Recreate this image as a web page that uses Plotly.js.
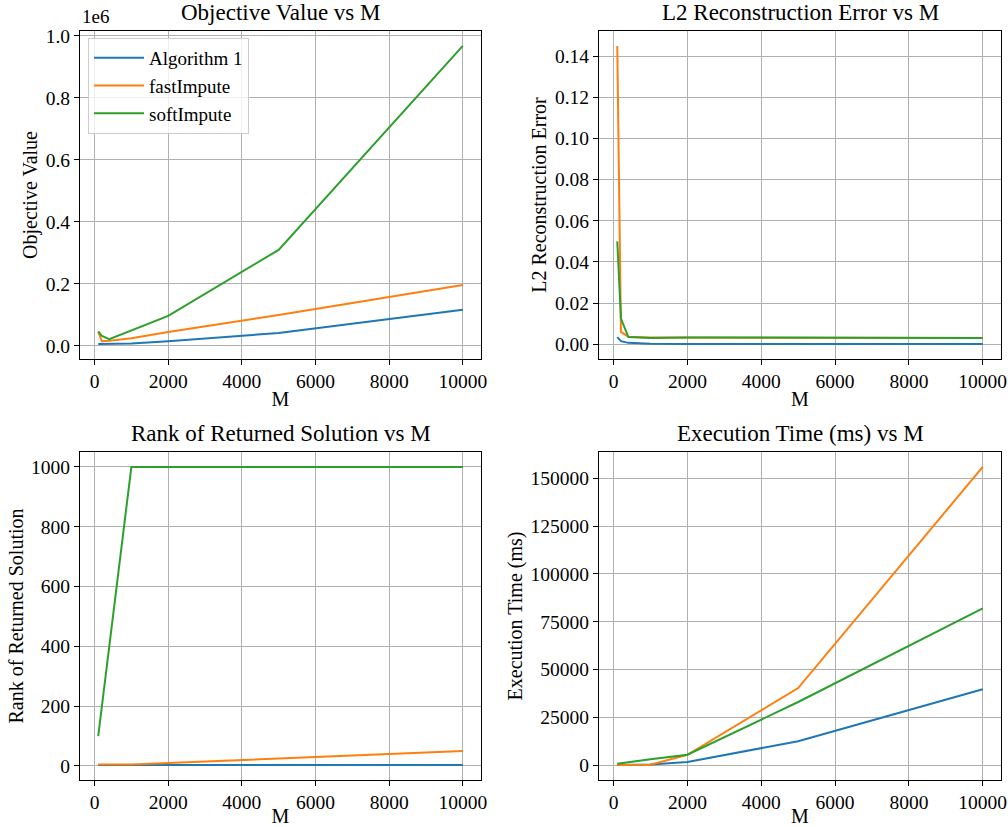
<!DOCTYPE html>
<html>
<head>
<meta charset="utf-8">
<script src="https://cdn.plot.ly/plotly-3.0.1.min.js"></script>
<style>html,body{margin:0;padding:0;background:#fff}#chart{width:1008px;height:827px}</style>
</head>
<body>
<div id="chart"></div>
<script>
const M = [100, 200, 400, 1000, 2000, 5000, 10000];
const seriesNames = ['Algorithm 1', 'fastImpute', 'softImpute'];
const colors = ['#1f77b4', '#ff7f0e', '#2ca02c'];

// Objective value
const objAlg1 = [6000, 6000, 6500, 8000, 15000, 42000, 117000];
const objFast = [45000, 15000, 17000, 25000, 45000, 100000, 197000];
const objSoft = [47000, 32000, 22000, 50000, 97000, 310000, 968000];

// L2 reconstruction error
const l2Alg1 = [0.0035, 0.0015, 0.0007, 0.0003, 0.0002, 0.00015, 0.0001];
const l2Fast = [0.145, 0.006, 0.0037, 0.0033, 0.0033, 0.0031, 0.003];
const l2Soft = [0.050, 0.0125, 0.0035, 0.0031, 0.0033, 0.0032, 0.0031];

// Rank of returned solution
const rankAlg1 = [3, 3, 3, 3, 3, 3, 3];
const rankFast = [5, 5, 5, 5, 10, 25, 50];
const rankSoft = [100, 200, 400, 1000, 1000, 1000, 1000];

// Execution time (ms)
const timeAlg1 = [50, 100, 150, 300, 1600, 12500, 39700];
const timeFast = [0, 50, 100, 200, 5400, 40300, 156000];
const timeSoft = [700, 1000, 1500, 3000, 5400, 33000, 82000];

const xTicks = [0, 2000, 4000, 6000, 8000, 10000];
const objTicks = [0, 200000, 400000, 600000, 800000, 1000000];
const objTickText = ['0.0', '0.2', '0.4', '0.6', '0.8', '1.0'];
const l2Ticks = [0, 0.02, 0.04, 0.06, 0.08, 0.10, 0.12, 0.14];
const l2TickText = ['0.00', '0.02', '0.04', '0.06', '0.08', '0.10', '0.12', '0.14'];
const rankTicks = [0, 200, 400, 600, 800, 1000];
const timeTicks = [0, 25000, 50000, 75000, 100000, 125000, 150000];

const panels = [
  {title: 'Objective Value vs M', ylabel: 'Objective Value', data: [objAlg1, objFast, objSoft], tv: objTicks, tt: objTickText},
  {title: 'L2 Reconstruction Error vs M', ylabel: 'L2 Reconstruction Error', data: [l2Alg1, l2Fast, l2Soft], tv: l2Ticks, tt: l2TickText},
  {title: 'Rank of Returned Solution vs M', ylabel: 'Rank of Returned Solution', data: [rankAlg1, rankFast, rankSoft], tv: rankTicks, tt: rankTicks.map(String)},
  {title: 'Execution Time (ms) vs M', ylabel: 'Execution Time (ms)', data: [timeAlg1, timeFast, timeSoft], tv: timeTicks, tt: timeTicks.map(String)}
];

const FONT = "'Liberation Serif', serif";
const W = 1008, H = 827;
const boxes = [
  {l: 80, r: 481, t: 31, b: 359},
  {l: 599, r: 1001, t: 31, b: 359},
  {l: 80, r: 481, t: 452, b: 780},
  {l: 599, r: 1001, t: 452, b: 780}
];

function rangeOf(arrs) {
  let mn = Infinity, mx = -Infinity;
  arrs.forEach(a => a.forEach(v => { mn = Math.min(mn, v); mx = Math.max(mx, v); }));
  const pad = (mx - mn) * 0.05;
  return [mn - pad, mx + pad];
}

const traces = [];
const layout = {
  width: W, height: H,
  margin: {l: 0, r: 0, t: 0, b: 0},
  paper_bgcolor: '#fff', plot_bgcolor: '#fff',
  font: {family: FONT, size: 19, color: '#000'},
  showlegend: true,
  legend: {
    x: 88 / W, y: 1 - 38 / H, xanchor: 'left', yanchor: 'top',
    bgcolor: 'rgba(255,255,255,0.8)', bordercolor: '#cccccc', borderwidth: 1,
    font: {family: FONT, size: 19, color: '#000'},
    itemwidth: 50, tracegroupgap: 4
  },
  annotations: []
};

const xr = rangeOf([M]);
panels.forEach((p, i) => {
  const k = i + 1;
  const suf = k === 1 ? '' : String(k);
  const bx = boxes[i];
  p.data.forEach((arr, s) => {
    traces.push({
      x: M, y: arr, type: 'scatter', mode: 'lines',
      name: seriesNames[s], line: {color: colors[s], width: 2},
      xaxis: 'x' + suf, yaxis: 'y' + suf,
      showlegend: i === 0
    });
  });
  const axCommon = {
    showline: true, linecolor: '#000', linewidth: 1, mirror: true,
    ticks: 'outside', ticklen: 5, tickwidth: 1, tickcolor: '#000',
    showgrid: true, gridcolor: '#b0b0b0', gridwidth: 1, zeroline: false,
    tickfont: {family: FONT, size: 19.5, color: '#000'}
  };
  layout['xaxis' + suf] = Object.assign({}, axCommon, {
    domain: [bx.l / W, bx.r / W], range: xr,
    tickvals: xTicks, ticktext: xTicks.map(String),
    anchor: 'y' + suf,
    title: {text: 'M', font: {family: FONT, size: 20, color: '#000'}, standoff: 0}
  });
  layout['yaxis' + suf] = Object.assign({}, axCommon, {
    domain: [1 - bx.b / H, 1 - bx.t / H], range: rangeOf(p.data),
    anchor: 'x' + suf, tickvals: p.tv, ticktext: p.tt,
    title: {text: p.ylabel, font: {family: FONT, size: 20, color: '#000'}, standoff: 2}
  });
  layout.annotations.push({
    text: p.title, xref: 'paper', yref: 'paper',
    x: (bx.l + bx.r) / 2 / W, y: 1 - (bx.t - 4) / H,
    xanchor: 'center', yanchor: 'bottom', showarrow: false,
    font: {family: FONT, size: 23, color: '#000'}
  });
});
layout.annotations.push({
  text: '1e6', xref: 'paper', yref: 'paper',
  x: boxes[0].l / W, y: 1 - (boxes[0].t - 2) / H,
  xanchor: 'left', yanchor: 'bottom', showarrow: false,
  font: {family: FONT, size: 19, color: '#000'}
});

Plotly.newPlot('chart', traces, layout, {displayModeBar: false, staticPlot: true});
</script>
</body>
</html>
